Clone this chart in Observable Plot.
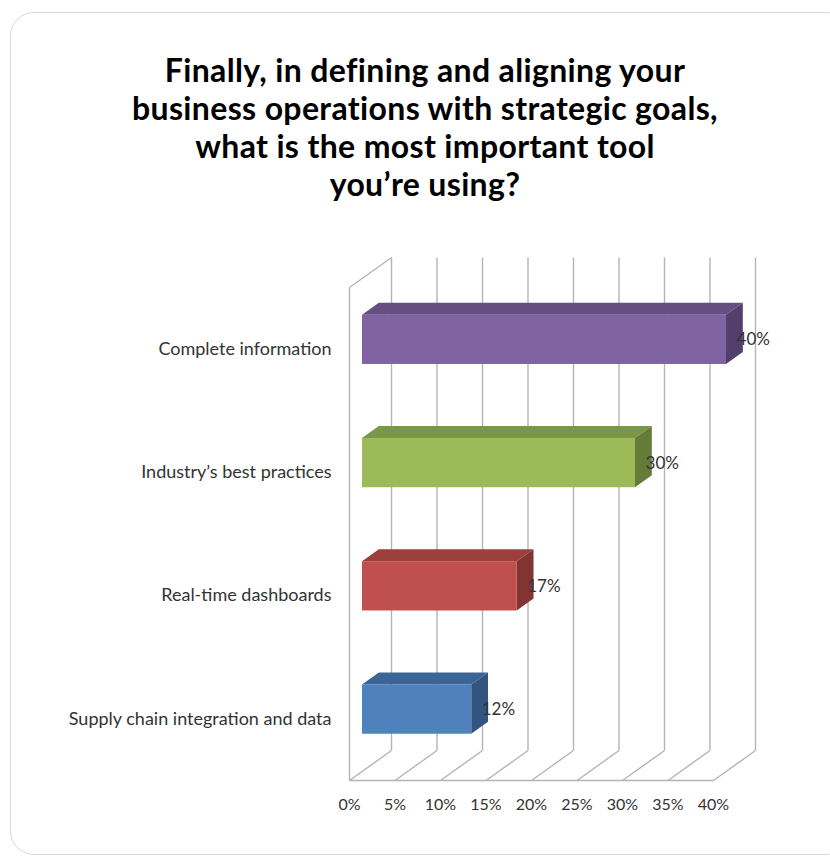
<!DOCTYPE html>
<html><head><meta charset="utf-8">
<script src="https://cdn.jsdelivr.net/npm/d3@7"></script>
<script src="https://cdn.jsdelivr.net/npm/@observablehq/plot@0.6"></script>
<style>
html,body{margin:0;padding:0;background:#fff;}
#wrap{position:relative;width:830px;height:859px;overflow:hidden;font-family:Lato,"Open Sans",sans-serif;}
#card{position:absolute;left:10px;top:12px;width:840px;height:843px;border:1px solid #d9d9d9;border-radius:24px;background:#fff;box-sizing:border-box;}
#title{position:absolute;left:10px;width:830px;top:51px;text-align:center;font-weight:700;font-size:32px;line-height:38px;color:#000;letter-spacing:0.35px;}
#chart{position:absolute;left:0;top:230px;}
</style></head>
<body><div id="wrap"><div id="card"></div>
<div id="title">Finally, in defining and aligning your<br>business operations with strategic goals,<br>what is the most important tool<br>you’re using?</div>
<div id="chart"></div></div>
<script>
const categories = ["Complete information", "Industry’s best practices", "Real-time dashboards", "Supply chain integration and data"];
const values = [40, 30, 17, 12];
const frontColors = ["#8064A2", "#9BBB59", "#C0504D", "#4F81BD"];
const topColors = ["#654F82", "#7B9646", "#9C3F3D", "#3C6597"];
const sideColors = ["#533F6B", "#657C39", "#823432", "#325481"];
const xTicks = [0, 5, 10, 15, 20, 25, 30, 35, 40];

// 3D projection parameters (in data units)
const DX = 4.615, DY = 0.2434, T0 = 0.31, T1 = 0.71, H = 0.2;
const yMin = -0.5, yMax = 3.5;

const rows = categories.map((c, i) => ({c, v: values[i], row: categories.length - 1 - i, i}));

const grid = "#b4b4b4";
const marks = [];
// back wall verticals
marks.push(Plot.link(xTicks, {x1: d => d + DX, x2: d => d + DX, y1: yMin + DY, y2: yMax + DY, stroke: grid, strokeWidth: 1.4}));
// floor diagonals
marks.push(Plot.link(xTicks, {x1: d => d, x2: d => d + DX, y1: yMin, y2: yMin + DY, stroke: grid, strokeWidth: 1.4}));
// floor front line, left wall front edge and top edge
marks.push(Plot.link([{x1: 0, y1: yMin, x2: 40, y2: yMin}, {x1: 0, y1: yMin, x2: 0, y2: yMax}, {x1: 0, y1: yMax, x2: DX, y2: yMax + DY}],
  {x1: "x1", y1: "y1", x2: "x2", y2: "y2", stroke: grid, strokeWidth: 1.4}));

for (const r of rows) {
  const topPts = [
    {y: r.row + H + T0 * DY, x1: T0 * DX, x2: r.v + T0 * DX},
    {y: r.row + H + T1 * DY, x1: T1 * DX, x2: r.v + T1 * DX}
  ];
  const sidePts = [
    {x: r.v + T0 * DX, y1: r.row - H + T0 * DY, y2: r.row + H + T0 * DY},
    {x: r.v + T1 * DX, y1: r.row - H + T1 * DY, y2: r.row + H + T1 * DY}
  ];
  marks.push(Plot.areaX(topPts, {y: "y", x1: "x1", x2: "x2", fill: topColors[r.i], curve: "linear"}));
  marks.push(Plot.areaY(sidePts, {x: "x", y1: "y1", y2: "y2", fill: sideColors[r.i], curve: "linear"}));
  marks.push(Plot.rect([r], {x1: T0 * DX, x2: d => d.v + T0 * DX, y1: d => d.row - H + T0 * DY, y2: d => d.row + H + T0 * DY, fill: frontColors[r.i]}));
}
marks.push(Plot.text(rows, {x: d => d.v + T0 * DX, y: d => d.row + T0 * DY, text: d => d.v + "%", textAnchor: "start", dx: 10, fill: "#333", fontSize: 17}));

const plot = Plot.plot({
  width: 830, height: 620,
  marginLeft: 349, marginRight: 117, marginTop: 57, marginBottom: 70,
  style: {fontFamily: "Lato, 'Open Sans', sans-serif", fontSize: "18px", color: "#333", background: "transparent", overflow: "visible"},
  x: {domain: [0, 40], ticks: xTicks, tickFormat: d => d + "%", tickSize: 0, tickPadding: 18, label: null, fontSize: 16},
  y: {domain: [yMin, yMax], ticks: [0, 1, 2, 3], tickFormat: i => categories[categories.length - 1 - i], tickSize: 0, tickPadding: 18, label: null},
  marks
});
plot.querySelectorAll("[aria-label='x-axis tick label'] text, [aria-label='x-axis'] text").forEach(t => t.setAttribute("font-size", "16"));
document.getElementById("chart").appendChild(plot);
</script></body></html>
